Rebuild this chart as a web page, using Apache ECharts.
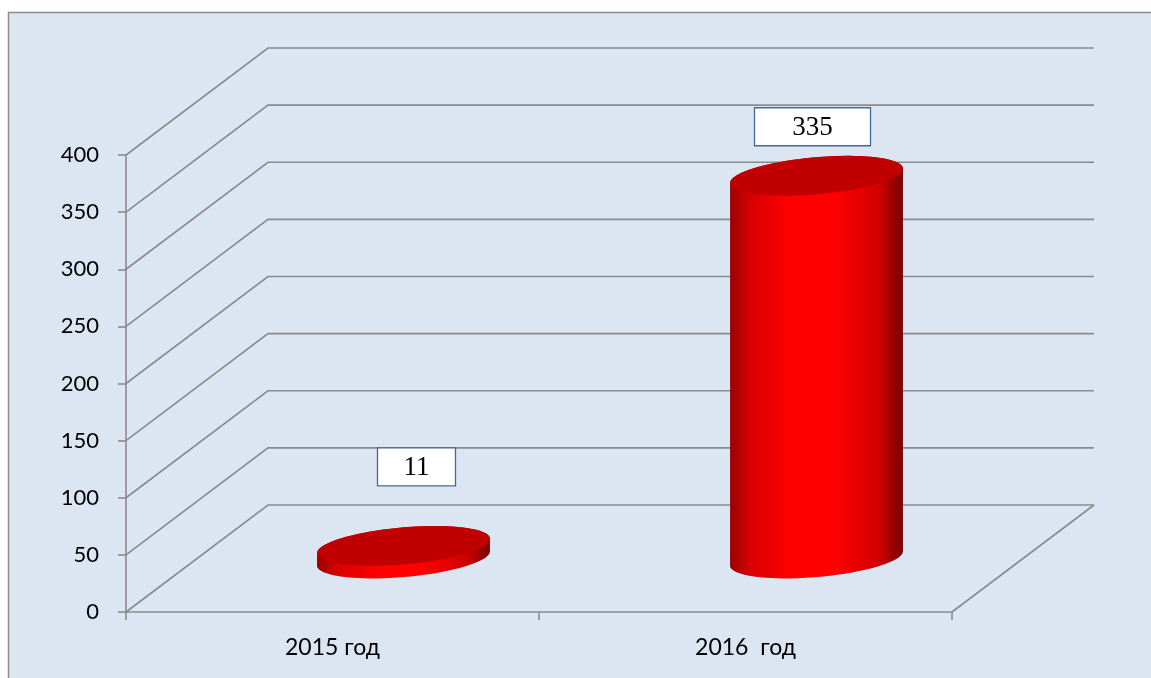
<!DOCTYPE html>
<html>
<head>
<meta charset="utf-8">
<script src="https://cdn.jsdelivr.net/npm/echarts/dist/echarts.min.js"></script>
<style>
  html, body { margin: 0; padding: 0; background: #fff; }
  #chart { width: 1151px; height: 678px; }
</style>
</head>
<body>
<div id="chart"></div>
<script>
// data
const categories = ['2015 год', '2016  год']
const values = [11, 335]
const yTicks = [0, 50, 100, 150, 200, 250, 300, 350, 400]

// 3d look (style only)
const DEPTH_X = 142
const DEPTH_Y = -107
const GRID_COLOR = '#8a8a8a'
const TILT = -5 * Math.PI / 180
const labelDX = [13, -4]
const labelDY = [-79, -49]
const labelW = [78, 116]

const chart = echarts.init(document.getElementById('chart'))

// points of a tilted ellipse from t0 to t1
function ellipsePts (cx, cy, rx, ry, t0, t1, n) {
  const pts = []
  const c = Math.cos(TILT), s = Math.sin(TILT)
  for (let i = 0; i <= n; i++) {
    const t = t0 + (t1 - t0) * i / n
    const ex = rx * Math.cos(t), ey = ry * Math.sin(t)
    pts.push([cx + ex * c - ey * s, cy + ex * s + ey * c])
  }
  return pts
}

// back walls + floor, one item per y tick
function renderWall (params, api) {
  const cs = params.coordSys
  const v = api.value(1)
  const y = api.coord([0, v])[1]
  const x0 = cs.x, x1 = cs.x + cs.width
  const style = { stroke: GRID_COLOR, lineWidth: 1.6, fill: null }
  const children = [{
    type: 'polyline',
    shape: { points: [[x0, y], [x0 + DEPTH_X, y + DEPTH_Y], [x1 + DEPTH_X, y + DEPTH_Y]] },
    style: style
  }]
  if (v === 0) {
    children.push({ type: 'line', shape: { x1: x1, y1: y, x2: x1 + DEPTH_X, y2: y + DEPTH_Y }, style: style })
  }
  return { type: 'group', children: children }
}

// cylinder for each category
function renderCylinder (params, api) {
  const i = api.value(0)
  const v = api.value(1)
  const base = api.coord([i, 0])
  const top = api.coord([i, v])
  const cx = base[0] + DEPTH_X / 2
  const by = base[1] + DEPTH_Y / 2
  const ty = top[1] + DEPTH_Y / 2
  const rx = api.size([1, 0])[0] * 0.21
  const ry = 18.5
  const A = rx * Math.cos(TILT), B = -ry * Math.sin(TILT)
  const tR = Math.atan2(B, A)
  const side = ellipsePts(cx, by, rx, ry, tR, tR + Math.PI, 40)
    .concat(ellipsePts(cx, ty, rx, ry, tR + Math.PI, tR + 2 * Math.PI, 40))
  const face = ellipsePts(cx, ty, rx, ry, 0, 2 * Math.PI, 80)
  const lx = cx + labelDX[i]
  const ly = ty + labelDY[i]
  const w = labelW[i], h = 38
  return {
    type: 'group',
    children: [
      {
        type: 'polygon',
        shape: { points: side },
        style: {
          fill: new echarts.graphic.LinearGradient(0, 0, 1, 0, [
            { offset: 0, color: '#9a0000' },
            { offset: 0.12, color: '#d80000' },
            { offset: 0.35, color: '#ff0000' },
            { offset: 0.6, color: '#ff0000' },
            { offset: 0.86, color: '#d20000' },
            { offset: 1, color: '#780000' }
          ])
        }
      },
      { type: 'polygon', shape: { points: face }, style: { fill: '#c00000' } },
      {
        type: 'rect',
        shape: { x: lx - w / 2, y: ly - h / 2, width: w, height: h },
        style: { fill: '#ffffff', stroke: '#44689a', lineWidth: 1.3 }
      },
      {
        type: 'text',
        style: {
          text: String(v),
          x: lx,
          y: ly + 1,
          textAlign: 'center',
          textVerticalAlign: 'middle',
          font: '27px "Liberation Serif"',
          fill: '#000'
        }
      }
    ]
  }
}

const options = {
  backgroundColor: '#ffffff',
  animation: false,
  graphic: [{
    type: 'rect',
    z: -10,
    shape: { x: 8.5, y: 12.5, width: 1200, height: 700 },
    style: { fill: '#dce6f2', stroke: '#8c8c8c', lineWidth: 1.5 }
  }],
  grid: { left: 126, right: 199, top: 155, bottom: 66 },
  xAxis: {
    type: 'category',
    data: categories,
    boundaryGap: true,
    axisLine: { lineStyle: { color: GRID_COLOR, width: 1.6 } },
    axisTick: { show: true, length: 8, lineStyle: { color: GRID_COLOR, width: 1.6 } },
    axisLabel: { color: '#000', fontFamily: 'Lato', fontSize: 23, margin: 24 },
    splitLine: { show: false }
  },
  yAxis: {
    type: 'value',
    min: 0,
    max: 400,
    interval: 50,
    axisLine: { show: true, lineStyle: { color: GRID_COLOR, width: 1.6 } },
    axisTick: { show: true, length: 8, lineStyle: { color: GRID_COLOR, width: 1.6 } },
    axisLabel: { color: '#000', fontFamily: 'Lato', fontSize: 22, margin: 27 },
    splitLine: { show: false }
  },
  series: [
    {
      name: 'walls',
      type: 'custom',
      renderItem: renderWall,
      clip: false,
      silent: true,
      z: 1,
      encode: { x: 0, y: 1 },
      data: yTicks.map(v => [0, v])
    },
    {
      name: 'cylinders',
      type: 'custom',
      renderItem: renderCylinder,
      clip: false,
      z: 5,
      encode: { x: 0, y: 1 },
      data: values.map((v, i) => [i, v])
    }
  ]
}
chart.setOption(options)
</script>
</body>
</html>
